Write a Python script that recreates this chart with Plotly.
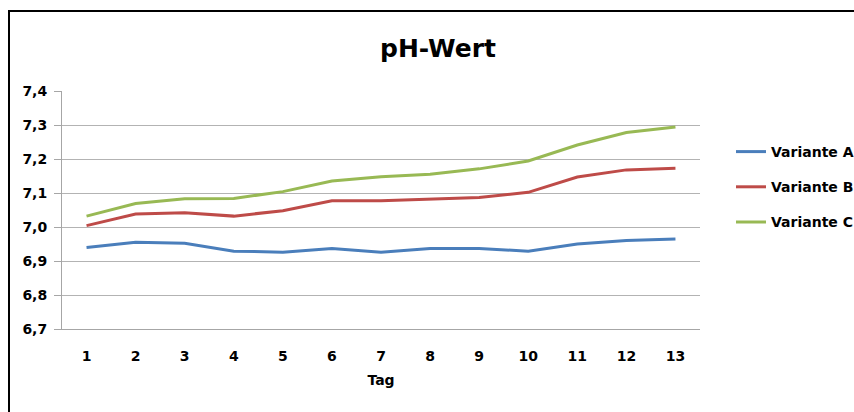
import plotly.graph_objects as go

tage = list(range(1, 14))
variante_a = [6.940, 6.955, 6.952, 6.929, 6.926, 6.937, 6.926, 6.937, 6.937, 6.929, 6.950, 6.960, 6.965]
variante_b = [7.004, 7.038, 7.042, 7.032, 7.048, 7.077, 7.077, 7.082, 7.087, 7.102, 7.147, 7.168, 7.173]
variante_c = [7.032, 7.069, 7.083, 7.084, 7.104, 7.135, 7.148, 7.155, 7.171, 7.194, 7.241, 7.278, 7.294]
namen = ["Variante A", "Variante B", "Variante C"]
farben = ["#4A7EBB", "#BE4B48", "#98B954"]
y_ticks = [6.7, 6.8, 6.9, 7.0, 7.1, 7.2, 7.3, 7.4]

FONT = "DejaVu Sans"
fig = go.Figure()
for i, (name, vals, col) in enumerate(zip(namen, [variante_a, variante_b, variante_c], farben)):
    fig.add_trace(go.Scatter(x=tage, y=vals, mode="lines", name=name,
                             legendgroup=name,
                             line=dict(color=col, width=3)))

L, R, T, B = 62, 154, 91, 83
fig.update_layout(
    width=854, height=412,
    margin=dict(l=L, r=R, t=T, b=B, autoexpand=False),
    paper_bgcolor="white", plot_bgcolor="white",
    separators=",.",
    font=dict(family=FONT, size=14, color="black"),
    title=dict(text="<b>pH-Wert</b>", font=dict(family=FONT, size=25, color="black"),
               x=438/854, xref="container", xanchor="center",
               y=1-48/412, yref="container", yanchor="middle"),
    showlegend=True,
    legend=dict(x=(731-L)/638, xanchor="left", y=(329-187)/238, yanchor="middle",
                font=dict(family=FONT, size=14, color="black", weight="bold"),
                tracegroupgap=14, traceorder="grouped", bgcolor="rgba(0,0,0,0)"),
    xaxis=dict(range=[0.5, 13.5], tickmode="array", tickvals=tage,
               ticktext=[str(t) for t in tage],
               showgrid=False, zeroline=False,
               showline=True, linecolor="#A6A6A6", linewidth=1,
               ticks="", ticklabelstandoff=14,
               tickfont=dict(family=FONT, size=14, color="black", weight="bold"),
               title=dict(text="<b>Tag</b>", standoff=12,
                          font=dict(family=FONT, size=14, color="black"))),
    yaxis=dict(range=[6.7, 7.4], tickmode="array", tickvals=y_ticks,
               tickformat=".1f",
               showgrid=True, gridcolor="#B3B3B3", gridwidth=1,
               zeroline=False,
               showline=True, linecolor="#A6A6A6", linewidth=1,
               ticks="outside", ticklen=7, tickcolor="#A6A6A6",
               ticklabelstandoff=4,
               tickfont=dict(family=FONT, size=14, color="black", weight="bold")),
)

fig.add_shape(type="rect", xref="paper", yref="paper",
              x0=(9-L)/638, x1=(900-L)/638,
              y0=(329-450)/238, y1=(329-11)/238,
              line=dict(color="black", width=2), fillcolor="rgba(0,0,0,0)", layer="above")

fig.write_html("out.html", config={"displayModeBar": False},
               post_script="document.body.style.margin='0';document.body.style.overflow='hidden';")
